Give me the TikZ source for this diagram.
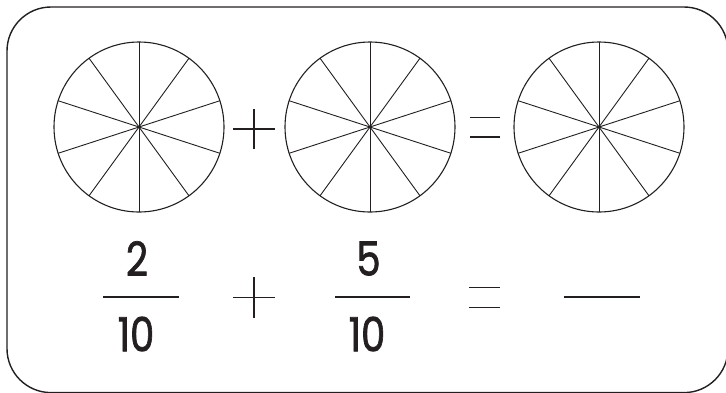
\documentclass[tikz,border=0pt]{standalone}
\usepackage{fontspec}
\setmainfont{Poppins}
\newfontfamily\digf{Poppins}[FakeBold=1.6]
\usetikzlibrary{calc}
\definecolor{ink}{HTML}{231F20}
\newcommand{\dg}[1]{\scalebox{0.82}[1]{#1}}
\begin{document}
\begin{tikzpicture}[x=1pt,y=-1pt,
  pie/.style={draw=ink,line width=1.1pt},
  spoke/.style={draw=ink,line width=0.9pt},
  sym/.style={draw=ink,line width=1.6pt},
  bar/.style={draw=ink,line width=1.8pt},
  digit/.style={text=ink,font=\digf\fontsize{47}{47}\selectfont,inner sep=0pt,anchor=center}]
\useasboundingbox (0,0) rectangle (726,392);
\draw[draw=ink,line width=1.4pt,rounded corners=44pt] (7,7) rectangle (728,392.6);
% pies
\foreach \n/\cx in {a/139,b/370,c/599}{
  \coordinate (\n) at (\cx,127);
  \draw[pie] (\n) circle[radius=85];
  \foreach \k in {0,...,9}{
    \draw[spoke] (\n) -- ++({18+36*\k}:85);
  }
  \fill[ink] (\n) circle[radius=1.6];
}
% plus between pies
\coordinate (p1) at (254,129);
\draw[sym] ($(p1)+(-21,0)$) -- ($(p1)+(21,0)$);
\draw[sym] ($(p1)+(0,-20)$) -- ($(p1)+(0,20)$);
% equals between pies
\draw[sym] (470,117.3) -- (500,117.3);
\draw[sym] (470,136.7) -- (500,136.7);
% fractions
\node[digit] (n1) at (137,258.5) {\dg{2}};
\node[digit] (d1) at (136,334) {\dg{10}};
\draw[bar] (103,297) -- (179,297);
\node[digit] (n2) at (368.5,258.5) {\dg{5}};
\node[digit] (d2) at (367,334) {\dg{10}};
\draw[bar] (335,297) -- (410,297);
% plus and equals row 2
\coordinate (p2) at (254,297.5);
\draw[sym] ($(p2)+(-21,0)$) -- ($(p2)+(21,0)$);
\draw[sym] ($(p2)+(0,-20.5)$) -- ($(p2)+(0,20.5)$);
\draw[sym] (469,287.3) -- (500,287.3);
\draw[sym] (469,307.3) -- (500,307.3);
\draw[bar] (564,297) -- (640,297);
\end{tikzpicture}
\end{document}
